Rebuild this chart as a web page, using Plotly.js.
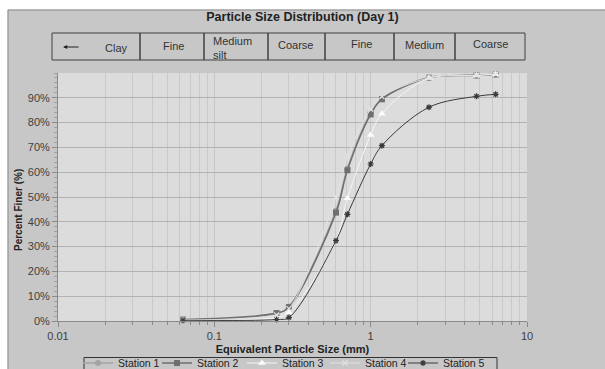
<!DOCTYPE html>
<html>
<head>
<meta charset="utf-8">
<script src="https://cdn.plot.ly/plotly-3.0.1.min.js"></script>
<style>
  html, body { margin: 0; padding: 0; background: #ffffff; }
  #chart { width: 605px; height: 369px; }
</style>
</head>
<body>
<div id="chart"></div>
<script>
// Sieve sizes (mm) and cumulative percent passing for each sampling station
const sieveSizes = [0.063, 0.25, 0.3, 0.6, 0.71, 1.0, 1.18, 2.36, 4.75, 6.3];
const station1 = [0.005, 0.03, 0.058, 0.445, 0.615, 0.838, 0.897, 0.982, 0.992, 0.995];
const station2 = [0.006, 0.032, 0.056, 0.437, 0.608, 0.833, 0.894, 0.981, 0.990, 0.994];
const station3 = [0.004, 0.015, 0.035, 0.325, 0.495, 0.75, 0.836, 0.980, 0.990, 0.995];
const station4 = [0.003, 0.025, 0.05, 0.50, 0.665, 0.855, 0.905, 0.980, 0.991, 0.995];
const station5 = [0.003, 0.006, 0.014, 0.324, 0.43, 0.633, 0.707, 0.862, 0.906, 0.914];

const stationNames = ['Station 1', 'Station 2', 'Station 3', 'Station 4', 'Station 5'];

// Grain-size class bands shown above the plot
const bandLabels = ['Clay', 'Fine', 'Medium<br>silt', 'Coarse', 'Fine', 'Medium', 'Coarse'];

// Axis tick labels
const xTickVals = [0.01, 0.1, 1, 10];
const xTickText = ['0.01', '0.1', '1', '10'];
const yTickVals = [0, 0.1, 0.2, 0.3, 0.4, 0.5, 0.6, 0.7, 0.8, 0.9];

// --- layout geometry (pixels) ---
const W = 605, H = 369;
const M = { l: 58, r: 78, t: 73, b: 48 };
const PW = W - M.l - M.r, PH = H - M.t - M.b;
const px = x => (x - M.l) / PW;          // page x -> paper x
const py = y => (H - M.b - y) / PH;      // page y -> paper y

const FONT = 'Liberation Sans, Arial, sans-serif';

// minor gridlines at 2..9 within each decade
const minorVals = [];
[0.01, 0.1, 1].forEach(d => { for (let k = 2; k <= 9; k++) minorVals.push(+(d * k).toPrecision(3)); });

const styles = [
  { line: { color: '#a4a4a4', width: 1.5 }, marker: { symbol: 'circle', size: 6, color: '#a4a4a4' } },
  { line: { color: '#6f6f6f', width: 1.5 }, marker: { symbol: 'square', size: 6, color: '#6f6f6f' } },
  { line: { color: '#f6f6f6', width: 1 }, marker: { symbol: 'triangle-up', size: 7, color: '#fbfbfb' } },
  { line: { color: '#e2e2e2', width: 1 }, marker: { symbol: 'x-thin-open', size: 5, color: '#e2e2e2', line: { width: 1.2, color: '#e2e2e2' } } },
  { line: { color: '#3a3a3a', width: 1 }, marker: { symbol: 'asterisk-open', size: 5, color: '#3a3a3a', line: { width: 1.2, color: '#3a3a3a' } } }
];

// one legend per station so each entry sits at its own slot in the key
const legendIds = ['legend', 'legend2', 'legend3', 'legend4', 'legend5'];
const legendTextX = [118, 197, 282, 365, 443];

const seriesValues = [station1, station2, station3, station4, station5];
const traces = seriesValues.map((vals, i) => ({
  type: 'scatter',
  mode: 'lines+markers',
  name: stationNames[i],
  legend: legendIds[i],
  x: sieveSizes,
  y: vals,
  line: Object.assign({ shape: 'spline', smoothing: 1 }, styles[i].line),
  marker: styles[i].marker,
  cliponaxis: false
}));

// header band boxes
const bandEdges = [52, 140, 204, 268, 325, 394, 455, 525];
const bandTop = 33, bandBottom = 60;
const shapes = [
  // white page strips around the chart frame
  { type: 'rect', xref: 'paper', yref: 'paper', x0: px(0), x1: px(W + 2), y0: py(9.5), y1: py(-2), fillcolor: '#ffffff', line: { width: 0 }, layer: 'below' },
  { type: 'rect', xref: 'paper', yref: 'paper', x0: px(-2), x1: px(7.5), y0: py(H + 2), y1: py(-2), fillcolor: '#ffffff', line: { width: 0 }, layer: 'below' },
  // chart frame
  { type: 'rect', xref: 'paper', yref: 'paper', x0: px(8), x1: px(W + 5), y0: py(H + 5), y1: py(10), line: { color: '#8c8c8c', width: 1 }, layer: 'below' },
  // legend frame
  { type: 'rect', xref: 'paper', yref: 'paper', x0: px(84), x1: px(497), y0: py(H + 6), y1: py(357.5), line: { color: '#333333', width: 1 } }
];
for (let i = 0; i < bandLabels.length; i++) {
  shapes.push({
    type: 'rect', xref: 'paper', yref: 'paper',
    x0: px(bandEdges[i]), x1: px(bandEdges[i + 1]),
    y0: py(bandBottom), y1: py(bandTop),
    line: { color: '#404040', width: 1 }
  });
}

const bandTextPos = [
  { x: 116, y: 48 }, { x: 173, y: 46 }, { x: 232, y: 48 }, { x: 295, y: 45 },
  { x: 361, y: 44 }, { x: 424, y: 45 }, { x: 490, y: 44 }
];
const annotations = bandLabels.map((t, i) => ({
  xref: 'paper', yref: 'paper',
  x: px(bandTextPos[i].x), y: py(bandTextPos[i].y),
  xanchor: 'center', yanchor: 'middle',
  text: t, showarrow: false, align: 'left',
  font: { family: FONT, size: 11, color: '#333333' }
}));
// arrow pointing to finer sizes inside the clay box
annotations.push({
  xref: 'paper', yref: 'paper', x: px(63), y: py(47),
  ax: 17, ay: 0, text: '', showarrow: true,
  arrowhead: 2, arrowsize: 0.7, arrowwidth: 1.2, arrowcolor: '#222222'
});
// y-axis title
annotations.push({
  xref: 'paper', yref: 'paper', x: px(18), y: py(210),
  xanchor: 'center', yanchor: 'middle', textangle: -90,
  text: '<b>Percent Finer (%)</b>', showarrow: false,
  font: { family: FONT, size: 10, color: '#222222' }
});

const layout = {
  width: W, height: H,
  margin: { l: M.l, r: M.r, t: M.t, b: M.b, pad: 0, autoexpand: false },
  paper_bgcolor: '#c7c7c7',
  plot_bgcolor: '#dcdcdc',
  font: { family: FONT, size: 11, color: '#404040' },
  title: {
    text: '<b>Particle Size Distribution (Day 1)</b>',
    x: 0.5, xref: 'container', y: 1 - 17 / H, yref: 'container', yanchor: 'middle',
    font: { family: FONT, size: 12.5, color: '#222222' }
  },
  xaxis: {
    type: 'log', range: [-2, 1],
    tickmode: 'array', tickvals: xTickVals, ticktext: xTickText,
    showgrid: true, gridcolor: '#c6c6c6', gridwidth: 1,
    ticks: 'outside', ticklen: 5, tickcolor: '#8a8a8a',
    showline: true, linecolor: '#8a8a8a', linewidth: 1,
    minor: { tickmode: 'array', tickvals: minorVals, showgrid: true, gridcolor: '#c9c9c9', gridwidth: 1, ticks: 'outside', ticklen: 3, tickcolor: '#8a8a8a' },
    tickfont: { family: FONT, size: 11, color: '#404040' },
    zeroline: false,
    title: { text: '<b>Equivalent Particle Size (mm)</b>', standoff: 4, font: { family: FONT, size: 11, color: '#222222' } }
  },
  yaxis: {
    range: [0, 1],
    tickmode: 'array', tickvals: yTickVals, tickformat: '.0%',
    showgrid: true, gridcolor: '#b2b2b2', gridwidth: 1,
    ticks: 'outside', ticklen: 5, tickcolor: '#8a8a8a',
    showline: true, linecolor: '#8a8a8a', linewidth: 1,
    minor: { dtick: 0.02, ticks: 'outside', ticklen: 3, tickcolor: '#a0a0a0', showgrid: false },
    tickfont: { family: FONT, size: 11, color: '#404040' },
    zeroline: false
  },
  showlegend: true,
  shapes: shapes,
  annotations: annotations
};

legendIds.forEach((id, i) => {
  layout[id] = {
    orientation: 'h',
    x: px(legendTextX[i] - 40), xanchor: 'left',
    y: py(348.5), yanchor: 'top',
    bgcolor: 'rgba(0,0,0,0)', borderwidth: 0,
    font: { family: FONT, size: 10.5, color: '#222222' },
    itemwidth: 30
  };
});

Plotly.newPlot('chart', traces, layout, { displayModeBar: false, staticPlot: true });
</script>
</body>
</html>
